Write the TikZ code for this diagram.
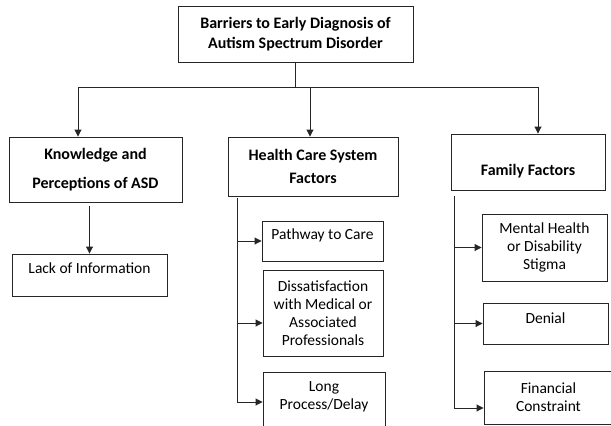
\documentclass[tikz,border=0pt]{standalone}
\usepackage{fontspec}
\setmainfont{Carlito}
\usetikzlibrary{arrows.meta}

\begin{document}
\begin{tikzpicture}[x=1pt,y=-1pt,
   box/.style={draw=black!85, line width=0.9pt, inner sep=0pt, align=center,
               font=\fontsize{15.5}{18}\selectfont},
   head/.style={box, font=\fontsize{16}{19}\selectfont\bfseries},
   arr/.style={draw=black!85, line width=0.9pt, -{Triangle[length=7pt,width=7pt]}},
   wire/.style={draw=black!85, line width=0.9pt}]
   \clip (0,0) rectangle (611,426);
   \node[head, minimum width=235pt, minimum height=56pt] (barriers) at (295.5,34)
        {Barriers to Early Diagnosis of\\[1pt]Autism Spectrum Disorder};
   \node[head, minimum width=173pt, minimum height=65pt] (knowledge) at (95.5,169.5)
        {Knowledge and\\[10pt]Perceptions of ASD};
   \node[head, minimum width=170pt, minimum height=59pt] (healthcare) at (313,166.5)
        {Health Care System\\[4pt]Factors};
   \node[head, minimum width=154pt, minimum height=56pt, text height=29.5pt, text depth=3.5pt] (family) at (528,162)
        {Family Factors};
   \node[box, minimum width=155pt, minimum height=42pt, text height=12pt, text depth=16pt] (lackinfo) at (89.5,275)
        {Lack of Information};
   \node[box, minimum width=121pt, minimum height=40pt, text height=12pt, text depth=16pt] (pathway) at (322.5,241)
        {Pathway to Care};
   \node[box, minimum width=120pt, minimum height=86pt] (dissatisf) at (323,313)
        {Dissatisfaction\\with Medical or\\Associated\\Professionals};
   \node[box, minimum width=122pt, minimum height=75pt, anchor=north] (longdelay) at (324,372)
        {Long\\Process/Delay\\[10pt]\mbox{}};
   \node[box, minimum width=125pt, minimum height=67pt] (stigma) at (544.5,247.5)
        {Mental Health\\or Disability\\Stigma};
   \node[box, minimum width=125pt, minimum height=41pt, text height=12pt, text depth=13pt] (denial) at (545.5,323.5)
        {Denial};
   \node[box, minimum width=129pt, minimum height=53pt] (financial) at (548.5,397.5)
        {Financial\\Constraint};

   \coordinate (busmid) at (295.5,87);
   \coordinate (busL) at (78,87);
   \coordinate (busM) at (310,87);
   \coordinate (busR) at (538,87);
   \coordinate (hctop) at (237,198);
   \coordinate (hcend) at (237,402);
   \coordinate (fftop) at (454,196);
   \coordinate (ffend) at (454,408);

   \draw[wire] (barriers.south) -- (busmid);
   \draw[wire] (busL) -- (busR);
   \draw[arr] (busL) -- (busL |- knowledge.north);
   \draw[arr] (busM) -- (busM |- healthcare.north);
   \draw[arr] (busR) -- (busR |- family.north);
   \draw[arr] ([yshift=-4pt]knowledge.south -| lackinfo.north) -- (lackinfo.north);

   \draw[arr] (hctop) -- (hcend) -- (hcend -| longdelay.west);
   \draw[arr] (hctop |- pathway.west) -- (pathway.west);
   \draw[arr] ([yshift=-10pt]dissatisf.west -| hctop) -- ([yshift=-10pt]dissatisf.west);

   \draw[arr] (fftop) -- (ffend) -- (ffend -| financial.west);
   \draw[arr] (fftop |- stigma.west) -- (stigma.west);
   \draw[arr] (fftop |- denial.west) -- (denial.west);
\end{tikzpicture}
\end{document}
